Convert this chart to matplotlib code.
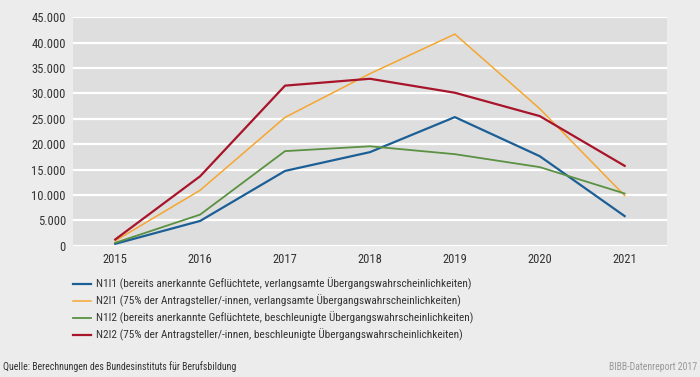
import matplotlib.pyplot as plt
from matplotlib import font_manager as fm
from matplotlib.ticker import FuncFormatter

years = [2015, 2016, 2017, 2018, 2019, 2020, 2021]
n1i1 = [390, 4900, 14750, 18450, 25350, 17650, 5850]
n2i1 = [990, 10950, 25300, 33900, 41700, 27000, 9900]
n1i2 = [590, 6150, 18650, 19600, 18050, 15500, 10300]
n2i2 = [1250, 13700, 31550, 32900, 30150, 25550, 15750]

labels = [
    "N1I1 (bereits anerkannte Geflüchtete, verlangsamte Übergangswahrscheinlichkeiten)",
    "N2I1 (75% der Antragsteller/-innen, verlangsamte Übergangswahrscheinlichkeiten)",
    "N1I2 (bereits anerkannte Geflüchtete, beschleunigte Übergangswahrscheinlichkeiten)",
    "N2I2 (75% der Antragsteller/-innen, beschleunigte Übergangswahrscheinlichkeiten)",
]
colors = ['#1c5f96', '#f5a630', '#5a9142', '#a8142a']
widths = [1.6, 1.1, 1.3, 1.6]


# look for a condensed face, the original uses a narrow font
def pick_font():
    tries = [('Liberation Sans Narrow', 'normal'), ('Roboto Condensed', 'normal'),
             ('DejaVu Sans', 'condensed'), ('Noto Sans', 'condensed'),
             ('Open Sans', 'condensed')]
    for fam, st in tries:
        try:
            path = fm.findfont(fm.FontProperties(family=fam, stretch=st),
                               fallback_to_default=False)
        except Exception:
            continue
        name = path.lower()
        if 'narrow' in name or 'condensed' in name or 'cond' in name:
            return path, 1.0
    path = fm.findfont(fm.FontProperties(family='Liberation Sans'))
    return path, 0.85


font_path, scale = pick_font()


def fp(size):
    return fm.FontProperties(fname=font_path, size=size * scale)


fig = plt.figure(figsize=(7, 3.77), dpi=100, facecolor='#ececec')
ax = fig.add_axes([0.104, 0.348, 0.849, 0.606])
ax.set_facecolor('#dedede')

series = [n1i1, n2i1, n1i2, n2i2]
handles = []
for vals, c, lw, lab in zip(series, colors, widths, labels):
    h, = ax.plot(years, vals, color=c, linewidth=lw, label=lab, zorder=3)
    handles.append(h)

ax.set_xlim(2014.5, 2021.5)
ax.set_ylim(0, 45000)
ax.set_yticks(range(0, 45001, 5000))
ax.yaxis.set_major_formatter(FuncFormatter(lambda v, p: f"{int(v):,}".replace(',', '.')))
ax.set_xticks(years)
ax.grid(axis='y', color='white', linewidth=1.6, zorder=1)
ax.set_axisbelow(True)
for s in ax.spines.values():
    s.set_visible(False)
ax.tick_params(length=0, colors='#333333', pad=5)
for t in ax.get_xticklabels() + ax.get_yticklabels():
    t.set_fontproperties(fp(9))

fig.legend(handles=handles, loc='upper left', bbox_to_anchor=(0.104, 0.263),
           frameon=False, prop=fp(8.1), labelcolor='#333333',
           handlelength=1.6, handletextpad=0.45, labelspacing=0.40,
           borderpad=0, borderaxespad=0)

fig.text(0.004, 0.027, "Quelle: Berechnungen des Bundesinstituts für Berufsbildung",
         fontproperties=fp(7.1), color='#333333', va='center', ha='left')
fig.text(0.996, 0.027, "BIBB-Datenreport 2017", fontproperties=fp(7.1), color='#999999',
         va='center', ha='right')

fig.savefig('out.png', dpi=100, facecolor=fig.get_facecolor())
